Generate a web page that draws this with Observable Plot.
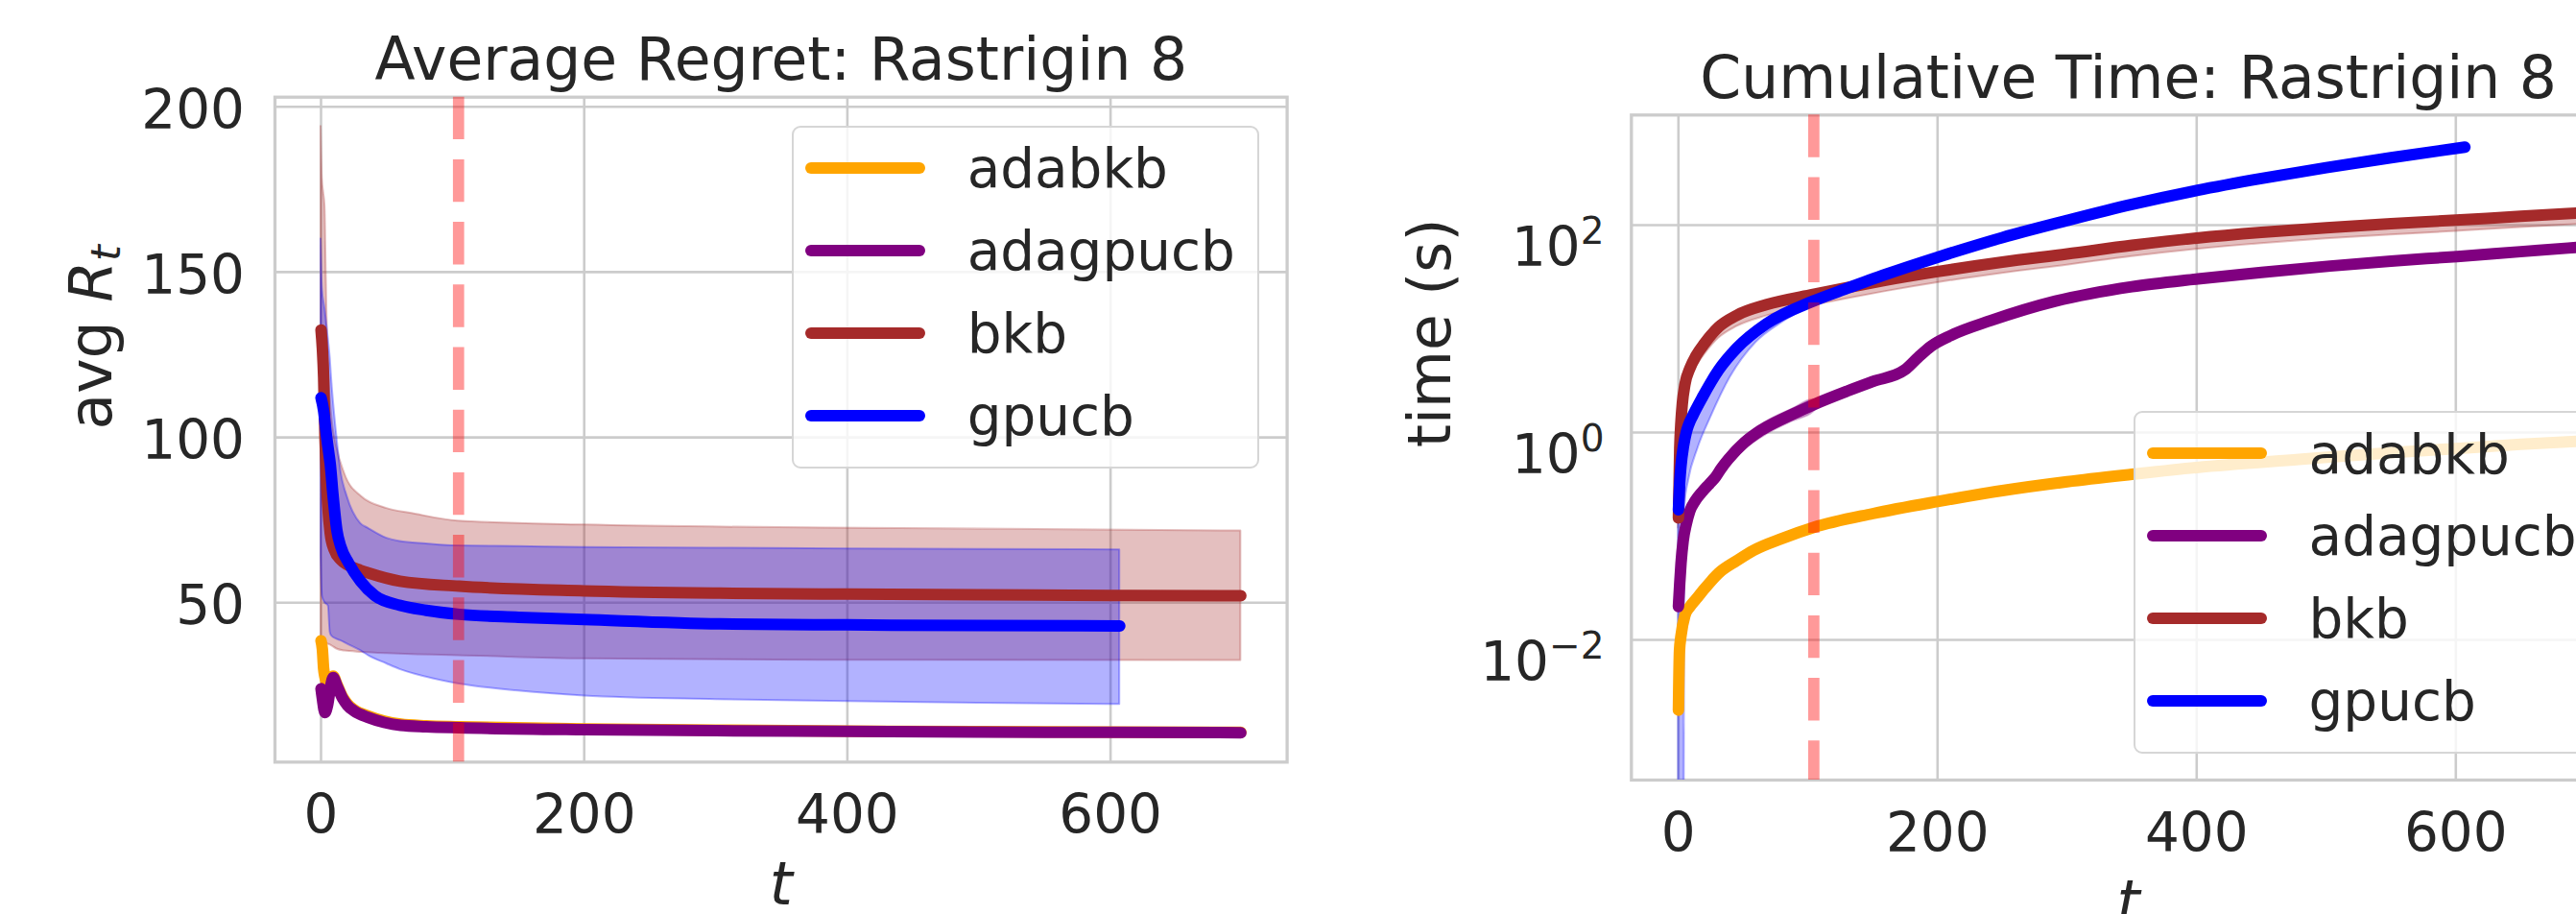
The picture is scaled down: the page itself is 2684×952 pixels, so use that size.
<!DOCTYPE html>
<html><head><meta charset="utf-8">
<script src="https://cdn.jsdelivr.net/npm/d3@7"></script>
<script src="https://cdn.jsdelivr.net/npm/@observablehq/plot@0.6"></script>
<style>
html,body{margin:0;padding:0;background:#fff;overflow:hidden;width:2684px;height:952px;}
#root{position:relative;width:2684px;height:952px;overflow:hidden;font-family:"DejaVu Sans",sans-serif;color:#262626;background:#fff;}
.panel{position:absolute;top:0;}
.legend{position:absolute;box-sizing:border-box;background:rgba(255,255,255,0.8);border:2.6px solid #d6d6d6;border-radius:9px;}
.sw{position:absolute;height:12px;border-radius:6px;}
.lab{position:absolute;font-size:56.4px;line-height:1;white-space:nowrap;color:#262626;font-family:"DejaVu Sans",sans-serif;}
</style>
</head><body><div id="root"></div>
<script>
// ---------- categories / styles ----------
const algos = ["adabkb", "adagpucb", "bkb", "gpucb"];
const algoColors = ["#ffa500", "#800080", "#a52a2a", "#0000ff"];
const xTicks = [0, 200, 400, 600];
const regretTicks = [50, 100, 150, 200];
const timeTicks = [1e-2, 1, 1e2];
const cutoffT = 104.5;
const titleLeft = "Average Regret: Rastrigin 8";
const titleRight = "Cumulative Time: Rastrigin 8";

// ---------- average regret (left) ----------
const regretT_adabkb = [0,1,2,3,5,7,9.2,12,16.5,20,25,36,48,60.5,80,105,200,300,400,500,600,699];
const regret_adabkb  = [38.5,36,30,27.5,25.5,26.5,27.8,25.4,21.4,19.4,17.7,15.7,14.2,13.3,12.8,12.5,11.8,11.5,11.2,11.0,10.9,10.8];
const regretT_adagpucb = [0,1,3,5,7,9.2,12,16.5,20,25,36,48,60.5,80,105,200,300,400,500,600,699];
const regret_adagpucb  = [24,21,16.8,19,24,27.4,25,21,19,17.3,15.3,13.8,12.9,12.5,12.2,11.6,11.3,11.1,10.9,10.8,10.7];
const regretT_bkb = [0,1,2,3,4,5,7,10,15,20,30,36,60,105,200,303,400,500,600,699];
const regret_bkb  = [132.5,127,118,100,88,80,71,66,63,61.5,59.8,59,56.5,55,53.6,52.9,52.6,52.4,52.2,52.1];
const regretT_gpucb = [0,2,4,6,7,9,12,15,21,30,41,60,80,105,150,200,303,400,500,607];
const regret_gpucb  = [112,108,101,95,92,83,72,67,62,56.5,52.1,49.2,47.7,46.5,45.6,44.9,43.6,43.3,43.1,43.0];

const regretBandT_bkb = [0,1,2,3,4,5,6,8,12,18,31,50,69,104,200,381,699];
const regretLo_bkb    = [40,39,38.5,38,37.8,37.5,37.4,37,36,35.4,35,34.6,34.3,34,33,32.6,32.5];
const regretHi_bkb    = [194,178,174,170,148,128,118,107,97,89,82,78.5,77,74.7,73.5,72.6,71.7];
const regretBandT_gpucb = [0,1,3,5.6,7,8,11.7,15,20,30,36,50,60,80,104,150,200,300,400,500,607];
const regretLo_gpucb    = [64,52,50,49,41,40,39,38.5,37.5,35.5,34,31.5,29.8,27.5,25.5,23.3,21.8,20.7,20.1,19.6,19.2];
const regretHi_gpucb    = [160,145,139,129.6,124,118,101.5,90,82,74,72.5,69.5,68.5,67.8,67.2,67,66.7,66.5,66.3,66.1,66];

// ---------- cumulative time (right) ----------
const timeT_adabkb = [0,0.8,2,5,9,13.6,20,31,45,58,80,104,150,200,250,300,350,400,479,550,600,650,699];
const time_adabkb  = [0.0021,0.0078,0.011,0.0172,0.021,0.0247,0.031,0.044,0.058,0.073,0.095,0.121,0.165,0.216,0.275,0.335,0.395,0.46,0.55,0.64,0.70,0.77,0.83];
const timeT_adagpucb = [0,1,2,3.7,6,8.7,13,18.6,24,28.5,33,38.4,50.8,60,68,88,104,130,150,174.5,185,195,210,241,291,350,401,450,503,550,601,650,699];
const time_adagpucb  = [0.021,0.035,0.055,0.091,0.13,0.174,0.22,0.27,0.32,0.37,0.45,0.55,0.8,0.98,1.13,1.5,1.85,2.5,3.1,4.0,5.3,6.8,8.6,12,18.5,25.5,30.3,35,40.3,45,49.8,55.5,61.7];
const timeT_bkb = [0,1,2,3,5,9,13.6,20,31,45,68,104,130,160,200,250,300,350,400,450,500,550,600,650,699];
const time_bkb  = [0.15,0.7,1.3,1.9,2.9,4.2,5.5,7.2,10.4,13.5,17.1,21.5,25,29.4,35.6,44,52.7,63.8,75,85.1,94.4,103,111.7,121.6,131.8];
const timeT_gpucb = [0,1,2,4,6,8,11,18.6,31,45,68,104,130,160,200,250,300,350,400,450,500,550,607];
const time_gpucb  = [0.18,0.33,0.48,0.75,1.0,1.2,1.45,2.2,4.0,6.5,11.2,18.5,24.5,33.5,49,75.9,110.9,158.5,216,282,359,447,565];

const timeBandT_adagpucb = [0,10,30,38.4,50.8,68,88,104,110];
const timeLo_adagpucb    = [0.020,0.182,0.36,0.47,0.68,0.96,1.28,1.57,1.94];
const timeHi_adagpucb    = [0.022,0.198,0.44,0.62,0.9,1.27,1.68,2.07,2.06];
const timeBandT_bkb = [0,1,2,3,5,9,13.6,20,31,45,68,104,130,160,200,250,300,350,400,450,500,550,600,650,699];
const timeLo_bkb    = [0.12,0.55,1.0,1.5,2.3,3.3,4.3,5.6,8.1,10.5,13.3,16.8,19.5,22.9,27.8,34.3,41.1,49.8,58.5,66.4,73.6,80.3,87.1,94.8,102.8];
const timeHi_bkb    = [0.16,0.74,1.37,2.0,3.05,4.4,5.8,7.6,10.9,14.2,18,22.6,26.3,30.9,37.4,46.2,55.3,67,78.8,89.4,99.1,108.2,117.3,127.7,138.4];
const timeBandT_gpucb = [0,4,5,8,15,25,40,60,80,104,150,200,300,400,500,607];
const timeLo_gpucb    = [1e-6,1e-6,0.2,0.35,0.7,1.4,3.4,7.4,11.5,16.8,27.5,45.5,103,200,333,525];
const timeHi_gpucb    = [0.2,0.8,0.95,1.3,2.0,3.3,5.9,10.2,14.8,19.8,31,51,116,225,372,585];

// ---------- tidy tables ----------
const tidy = (algo, ts, vs) => ts.map((t, i) => ({algo, t, v: vs[i]}));
const tidyBand = (algo, ts, lo, hi) => ts.map((t, i) => ({algo, t, lo: lo[i], hi: hi[i]}));

const regretLines = [
  ...tidy("adabkb", regretT_adabkb, regret_adabkb),
  ...tidy("adagpucb", regretT_adagpucb, regret_adagpucb),
  ...tidy("bkb", regretT_bkb, regret_bkb),
  ...tidy("gpucb", regretT_gpucb, regret_gpucb)
];
const regretBands = [
  ...tidyBand("bkb", regretBandT_bkb, regretLo_bkb, regretHi_bkb),
  ...tidyBand("gpucb", regretBandT_gpucb, regretLo_gpucb, regretHi_gpucb)
];
const timeLines = [
  ...tidy("adabkb", timeT_adabkb, time_adabkb),
  ...tidy("adagpucb", timeT_adagpucb, time_adagpucb),
  ...tidy("bkb", timeT_bkb, time_bkb),
  ...tidy("gpucb", timeT_gpucb, time_gpucb)
];
const timeBands = [
  ...tidyBand("adagpucb", timeBandT_adagpucb, timeLo_adagpucb, timeHi_adagpucb),
  ...tidyBand("bkb", timeBandT_bkb, timeLo_bkb, timeHi_bkb),
  ...tidyBand("gpucb", timeBandT_gpucb, timeLo_gpucb, timeHi_gpucb)
];

const TEXT = "#262626";
const GRID = "#cccccc";
const svgStyle = {fontFamily: "DejaVu Sans", color: TEXT, background: "transparent", maxWidth: "none", overflow: "visible"};
const ns = "http://www.w3.org/2000/svg";

function commonMarks(bands, lines) {
  return [
    Plot.frame({stroke: GRID, strokeWidth: 3.3}),
    Plot.areaY(bands, {x: "t", y1: "lo", y2: "hi", z: "algo", fill: "algo", fillOpacity: 0.3, stroke: "algo", strokeOpacity: 0.3, strokeWidth: 2, curve: "monotone-x", clip: true}),
    Plot.line(lines, {x: "t", y: "v", z: "algo", stroke: "algo", strokeWidth: 12, strokeLinecap: "round", strokeLinejoin: "round", curve: "monotone-x"}),
    Plot.ruleX([cutoffT], {stroke: "#ff0000", strokeOpacity: 0.4, strokeWidth: 11.7, strokeDasharray: "44.4 20.8"})
  ];
}

// ---------- left chart ----------
const left = Plot.plot({
  width: 1342, height: 952,
  marginLeft: 286, marginRight: 1.4, marginTop: 100.7, marginBottom: 158.7,
  x: {domain: [-35, 734.2]},
  y: {domain: [1.8, 202.9]},
  color: {domain: algos, range: algoColors},
  style: svgStyle,
  marks: [
    Plot.gridX(xTicks, {stroke: GRID, strokeOpacity: 1, strokeWidth: 2.6}),
    Plot.gridY(regretTicks, {stroke: GRID, strokeOpacity: 1, strokeWidth: 2.6}),
    ...commonMarks(regretBands, regretLines),
    Plot.axisX(xTicks, {tickSize: 0, tickPadding: 34, fontSize: 56.4, label: null}),
    Plot.axisY(regretTicks, {tickSize: 0, tickPadding: 31.6, fontSize: 56.4, label: null, dy: 4.5}),
    Plot.text([titleLeft], {text: d => d, frameAnchor: "top", lineAnchor: "bottom", dy: -18.2, fontSize: 61.5, fill: TEXT}),
    Plot.text(["t"], {text: d => d, frameAnchor: "bottom", lineAnchor: "bottom", dy: 147.7, fontSize: 61.5, fontStyle: "italic", fill: TEXT}),
    Plot.text(["avg Rt"], {text: d => d, frameAnchor: "left", lineAnchor: "bottom", rotate: -90, dx: -171, fontSize: 61.5, fill: TEXT})
  ]
});

// ---------- right chart ----------
const right = Plot.plot({
  width: 1458, height: 1000,
  marginLeft: 357.3, marginRight: 65, marginTop: 119.3, marginBottom: 188,
  x: {domain: [-36.3, 730.9]},
  y: {type: "log", domain: [4.446e-4, 1153.5]},
  color: {domain: algos, range: algoColors},
  style: svgStyle,
  marks: [
    Plot.gridX(xTicks, {stroke: GRID, strokeOpacity: 1, strokeWidth: 2.6}),
    Plot.gridY(timeTicks, {stroke: GRID, strokeOpacity: 1, strokeWidth: 2.6}),
    ...commonMarks(timeBands, timeLines),
    Plot.axisX(xTicks, {tickSize: 0, tickPadding: 34, fontSize: 56.4, label: null}),
    Plot.axisY(timeTicks, {tickSize: 0, tickPadding: 28.3, fontSize: 56.4, label: null, tickFormat: d => "10^" + Math.round(Math.log10(d))}),
    Plot.text([titleRight], {text: d => d, frameAnchor: "top", lineAnchor: "bottom", dy: -17.8, fontSize: 61.5, fill: TEXT}),
    Plot.text(["t"], {text: d => d, frameAnchor: "bottom", lineAnchor: "bottom", dy: 148, fontSize: 61.5, fontStyle: "italic", fill: TEXT}),
    Plot.text(["time (s)"], {text: d => d, frameAnchor: "left", lineAnchor: "bottom", rotate: -90, dx: -189.3, fontSize: 61.5, fill: TEXT})
  ]
});

// ---------- rich text fix-ups ----------
left.querySelectorAll("text").forEach(yl => {
  if (yl.textContent !== "avg Rt") return;
  while (yl.firstChild) yl.removeChild(yl.firstChild);
  yl.appendChild(document.createTextNode("avg "));
  const r = document.createElementNS(ns, "tspan"); r.setAttribute("font-style", "italic"); r.textContent = "R"; yl.appendChild(r);
  const s = document.createElementNS(ns, "tspan"); s.setAttribute("font-style", "italic"); s.setAttribute("font-size", "43"); s.setAttribute("dy", "9"); s.textContent = "t"; yl.appendChild(s);
});
right.querySelectorAll("text").forEach(el => {
  const s = el.textContent;
  if (!/^10\^-?\d+$/.test(s)) return;
  const e = s.split("^")[1];
  while (el.firstChild) el.removeChild(el.firstChild);
  el.appendChild(document.createTextNode("10"));
  el.setAttribute("dy", "24");
  const ts = document.createElementNS(ns, "tspan");
  ts.setAttribute("font-size", "39");
  ts.setAttribute("dy", "-23");
  ts.textContent = e.replace("-", "\u2212");
  el.appendChild(ts);
});

// ---------- layout ----------
const root = document.getElementById("root");
function place(svg, x, w) {
  const d = document.createElement("div");
  d.className = "panel"; d.style.left = x + "px"; d.style.width = w + "px";
  d.appendChild(svg); root.appendChild(d);
}
place(left, 0, 1342);
place(right, 1342, 1458);

function legend(x, y) {
  const box = document.createElement("div");
  box.className = "legend";
  Object.assign(box.style, {left: x + "px", top: y + "px", width: "486.6px", height: "357.6px"});
  const b = 2.6;
  algos.forEach((a, i) => {
    const c = 45 + 85.9 * i;
    const sw = document.createElement("div");
    sw.className = "sw";
    Object.assign(sw.style, {left: (15 - b) + "px", top: (c - 6 - b) + "px", width: "125px", background: algoColors[i]});
    box.appendChild(sw);
    const lb = document.createElement("div");
    lb.className = "lab";
    lb.textContent = a;
    Object.assign(lb.style, {left: (183.3 - b) + "px", top: (c + 21 - 47.7 - b) + "px"});
    box.appendChild(lb);
  });
  root.appendChild(box);
}
legend(825, 130.7);
legend(2222.9, 427.9);
</script>
</body></html>
